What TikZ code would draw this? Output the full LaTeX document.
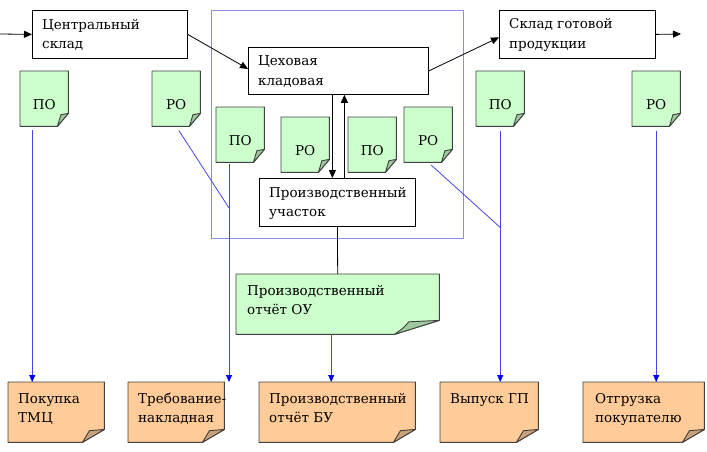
\documentclass[tikz,border=0pt]{standalone}
\usepackage{fontspec}
\newfontfamily\dfont{DejaVu Serif}
\usetikzlibrary{arrows.meta,backgrounds,calc}

\definecolor{docgreen}{HTML}{CCFFCC}
\definecolor{foldgreen}{HTML}{9FC89F}
\definecolor{docorange}{HTML}{FFCC99}
\definecolor{foldorange}{HTML}{C9A27C}
\definecolor{lineblue}{HTML}{4646E6}
\definecolor{frameblue}{HTML}{8C8CE6}
\definecolor{docedge}{HTML}{404040}

\tikzset{
  box/.style={draw=black, line width=0.8pt, anchor=north west, inner sep=0pt, rectangle},
  docn/.style={anchor=north west, inner sep=0pt, rectangle},
  lbl/.style={anchor=base west, inner sep=0pt, font=\dfont\fontsize{13.5}{19.5}\selectfont},
  clbl/.style={anchor=base, inner sep=0pt, font=\dfont\fontsize{13.5}{19.5}\selectfont},
  blk/.style={draw=black, line width=0.8pt, -{Triangle[length=8pt,width=7pt]}},
  bl/.style={draw=lineblue, line width=0.8pt},
  blarr/.style={bl, -{Triangle[length=7pt,width=6pt,color=blue]}},
}

\newcommand\docpath[5]{%
  \draw[docedge, line width=0.9pt, fill=#2, line join=round] (#1.north west) -- (#1.north east) -- ([yshift=#5]#1.south east) -- ([xshift=-#4]#1.south east) -- (#1.south west) -- cycle;
  \draw[docedge, line width=0.9pt, fill=#3, line join=round] ([yshift=#5]#1.south east) -- ([xshift=-0.68*#4, yshift=0.9*#5]#1.south east) .. controls ([xshift=-0.8*#4,yshift=0.45*#5]#1.south east) .. ([xshift=-#4]#1.south east) -- cycle;
}
\newcommand\tl[2]{\begin{tabular}[t]{@{}l@{}}#1\\#2\end{tabular}}

\begin{document}
\begin{tikzpicture}[x=1pt,y=-1pt]
\useasboundingbox (0,0) rectangle (707,452);

% frame
\node[draw=frameblue, line width=0.8pt, anchor=north west, inner sep=0pt, minimum width=252pt, minimum height=228pt] (fr) at (211,10) {};

% boxes
\node[box, minimum width=155pt, minimum height=48pt] (cs) at (32,10) {};
\node[box, minimum width=180pt, minimum height=47pt] (ck) at (248,47) {};
\node[box, minimum width=156pt, minimum height=48pt] (sgp) at (499,10) {};
\node[box, minimum width=156pt, minimum height=48pt] (pu) at (259,178) {};

\node[lbl] (tcs) at ($(cs.north west)+(10,19.5)$) {\tl{Центральный}{склад}};
\node[lbl] (tck) at ($(ck.north west)+(10,19)$) {\tl{Цеховая}{кладовая}};
\node[lbl] (tsgp) at ($(sgp.north west)+(10,19)$) {\tl{Склад готовой}{продукции}};
\node[lbl] (tpu) at ($(pu.north west)+(10,19)$) {\tl{Производственный}{участок}};

% small green documents
\foreach \n/\x/\y in {po1/20/71, ro1/152/71, po2/216/107, ro2/281/117, po3/348/117, ro3/404/107, po4/476/71, ro4/632/71}{
  \node[docn, minimum width=48pt, minimum height=55pt] (\n) at (\x,\y) {};
}
\foreach \n/\t in {po1/ПО, ro1/РО, po2/ПО, ro2/РО, po3/ПО, ro3/РО, po4/ПО, ro4/РО}{
  \node[clbl] (t\n) at ($(\n.north)+(0,38)$) {\t};
}

% report OU
\node[docn, minimum width=203pt, minimum height=60pt] (ou) at (236,274) {};
\node[lbl] (tou) at ($(ou.north west)+(11,21)$) {\tl{Производственный}{отчёт ОУ}};

% bottom orange documents
\node[docn, minimum width=96pt, minimum height=60pt] (b1) at (8,382) {};
\node[docn, minimum width=96pt, minimum height=60pt] (b2) at (128,382) {};
\node[docn, minimum width=156pt, minimum height=60pt] (b3) at (259,382) {};
\node[docn, minimum width=98pt, minimum height=60pt] (b4) at (440,382) {};
\node[docn, minimum width=121pt, minimum height=60pt] (b5) at (583,382) {};

\node[lbl] (tb1) at ($(b1.north west)+(10,21)$) {\tl{Покупка}{ТМЦ}};
\node[lbl] (tb2) at ($(b2.north west)+(10,21)$) {\tl{Требование-}{накладная}};
\node[lbl] (tb3) at ($(b3.north west)+(10,21)$) {\tl{Производственный}{отчёт БУ}};
\node[lbl] (tb4) at ($(b4.north west)+(10,21)$) {Выпуск ГП};
\node[lbl] (tb5) at ($(b5.north west)+(12,21)$) {\tl{Отгрузка}{покупателю}};

\begin{pgfonlayer}{background}
  \foreach \n in {po1,ro1,po2,ro2,po3,ro3,po4,ro4}{\docpath{\n}{docgreen}{foldgreen}{11pt}{13pt}}
  \docpath{ou}{docgreen}{foldgreen}{45pt}{14pt}
  \foreach \n in {b1,b2,b3,b4,b5}{\docpath{\n}{docorange}{foldorange}{22pt}{13pt}}
\end{pgfonlayer}

% black connectors
\coordinate (in) at (0,34);
\coordinate (out) at (681,34);
\draw[blk] (in) -- (cs.west);
\draw[blk] (cs.east) -- ([yshift=2pt]ck.west);
\draw[blk] (ck.east) -- ([yshift=-3pt]sgp.west);
\draw[blk] (sgp.east) -- (out);
\coordinate (d1) at ([xshift=-6pt]ck.south);
\coordinate (u1) at ([xshift=6pt]ck.south);
\draw[blk] (d1) -- (d1 |- pu.north);
\draw[blk] (u1 |- pu.north) -- (u1);
\draw[black, line width=0.8pt] (pu.south) -- (ou.north);

% blue connectors
\coordinate (a1) at ([xshift=-12pt]po1.south);
\draw[blarr, shorten <=4pt] (a1) -- (a1 |- b1.north);

\coordinate (j1) at (229,208);
\draw[bl, shorten <=5pt] (ro1.south) -- (j1);
\draw[blarr, shorten <=2pt] (j1 |- po2.south) -- (j1 |- b2.north);

\coordinate (a3) at ([xshift=-6.5pt]ou.south);
\draw[blarr] (a3) -- (a3 |- b3.north);

\coordinate (j2) at ($(po4.south)+(0,101)$);
\draw[bl, shorten <=4pt] (ro3.south) -- (j2);
\draw[blarr, shorten <=5pt] (po4.south) -- (po4.south |- b4.north);

\draw[blarr, shorten <=5pt] (ro4.south) -- (ro4.south |- b5.north);
\end{tikzpicture}
\end{document}
